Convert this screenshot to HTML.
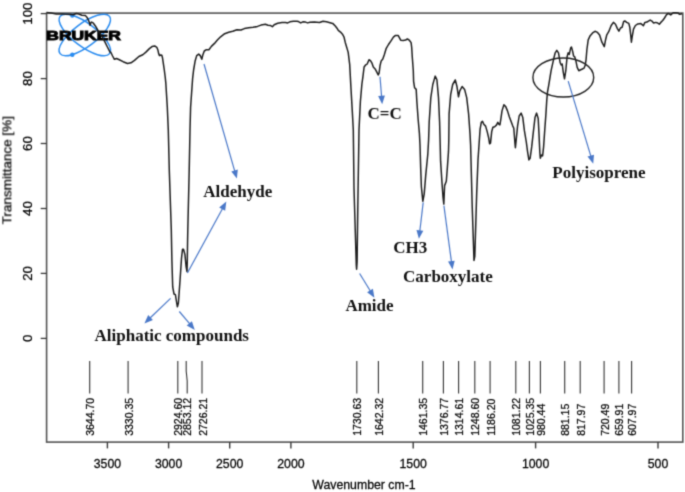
<!DOCTYPE html><html><head><meta charset="utf-8"><style>
html,body{margin:0;padding:0;background:#fff;}
svg{display:block;}
.ax{font-family:"Liberation Sans",sans-serif;fill:#000;stroke:#000;stroke-width:0.25px;}
.an{font-family:"Liberation Serif",serif;font-weight:bold;fill:#111;font-size:17px;}
</style></head><body>
<svg width="685" height="492" viewBox="0 0 685 492">
<defs><filter id="sf" x="0" y="0" width="685" height="492" filterUnits="userSpaceOnUse" color-interpolation-filters="sRGB"><feConvolveMatrix order="3" kernelMatrix="1 4 1 4 16 4 1 4 1" edgeMode="duplicate"/></filter></defs>
<g filter="url(#sf)">
<rect width="685" height="492" fill="#fff"/>
<rect x="46.6" y="13.1" width="636.2" height="429.0" fill="none" stroke="#555" stroke-width="1.6"/>
<line x1="40.7" y1="338.4" x2="46.6" y2="338.4" stroke="#3a3a3a" stroke-width="1.3"/>
<text class="ax" font-size="12.3" text-anchor="middle" transform="translate(31.6,338.4) scale(1,1.08) rotate(-90)">0</text>
<line x1="40.7" y1="273.4" x2="46.6" y2="273.4" stroke="#3a3a3a" stroke-width="1.3"/>
<text class="ax" font-size="12.3" text-anchor="middle" transform="translate(31.6,273.4) scale(1,1.08) rotate(-90)">20</text>
<line x1="40.7" y1="208.5" x2="46.6" y2="208.5" stroke="#3a3a3a" stroke-width="1.3"/>
<text class="ax" font-size="12.3" text-anchor="middle" transform="translate(31.6,208.5) scale(1,1.08) rotate(-90)">40</text>
<line x1="40.7" y1="143.5" x2="46.6" y2="143.5" stroke="#3a3a3a" stroke-width="1.3"/>
<text class="ax" font-size="12.3" text-anchor="middle" transform="translate(31.6,143.5) scale(1,1.08) rotate(-90)">60</text>
<line x1="40.7" y1="78.6" x2="46.6" y2="78.6" stroke="#3a3a3a" stroke-width="1.3"/>
<text class="ax" font-size="12.3" text-anchor="middle" transform="translate(31.6,78.6) scale(1,1.08) rotate(-90)">80</text>
<line x1="40.7" y1="13.6" x2="46.6" y2="13.6" stroke="#3a3a3a" stroke-width="1.3"/>
<text class="ax" font-size="12.3" text-anchor="middle" transform="translate(31.6,13.6) scale(1,1.08) rotate(-90)">100</text>
<text class="ax" font-size="12.3" text-anchor="middle" transform="translate(11.4,170.2) scale(1,1.10) rotate(-90)">Transmittance [%]</text>
<line x1="107.4" y1="442.1" x2="107.4" y2="448.4" stroke="#3a3a3a" stroke-width="1.4"/>
<text class="ax" font-size="12.3" text-anchor="middle" transform="translate(107.4,468.3) scale(1,1.08)">3500</text>
<line x1="168.6" y1="442.1" x2="168.6" y2="448.4" stroke="#3a3a3a" stroke-width="1.4"/>
<text class="ax" font-size="12.3" text-anchor="middle" transform="translate(168.6,468.3) scale(1,1.08)">3000</text>
<line x1="229.7" y1="442.1" x2="229.7" y2="448.4" stroke="#3a3a3a" stroke-width="1.4"/>
<text class="ax" font-size="12.3" text-anchor="middle" transform="translate(229.7,468.3) scale(1,1.08)">2500</text>
<line x1="290.9" y1="442.1" x2="290.9" y2="448.4" stroke="#3a3a3a" stroke-width="1.4"/>
<text class="ax" font-size="12.3" text-anchor="middle" transform="translate(290.9,468.3) scale(1,1.08)">2000</text>
<line x1="413.2" y1="442.1" x2="413.2" y2="448.4" stroke="#3a3a3a" stroke-width="1.4"/>
<text class="ax" font-size="12.3" text-anchor="middle" transform="translate(413.2,468.3) scale(1,1.08)">1500</text>
<line x1="535.6" y1="442.1" x2="535.6" y2="448.4" stroke="#3a3a3a" stroke-width="1.4"/>
<text class="ax" font-size="12.3" text-anchor="middle" transform="translate(535.6,468.3) scale(1,1.08)">1000</text>
<line x1="658.0" y1="442.1" x2="658.0" y2="448.4" stroke="#3a3a3a" stroke-width="1.4"/>
<text class="ax" font-size="12.3" text-anchor="middle" transform="translate(658.0,468.3) scale(1,1.08)">500</text>
<text class="ax" font-size="12.3" text-anchor="middle" transform="translate(364,488.7) scale(1,1.08)">Wavenumber cm-1</text>
<line x1="89.7" y1="361" x2="89.7" y2="393.4" stroke="#333" stroke-width="1.1"/>
<text class="ax" font-size="10.3" transform="translate(94.2,435.8) scale(1,1.02) rotate(-90)">3644.70</text>
<line x1="128.1" y1="361" x2="128.1" y2="393.4" stroke="#333" stroke-width="1.1"/>
<text class="ax" font-size="10.3" transform="translate(132.6,435.8) scale(1,1.02) rotate(-90)">3330.35</text>
<line x1="177.8" y1="361" x2="177.8" y2="393.4" stroke="#333" stroke-width="1.1"/>
<text class="ax" font-size="10.3" transform="translate(182.3,435.8) scale(1,1.02) rotate(-90)">2924.60</text>
<path d="M186.2 361L186.2 371L187.2 381L187.2 393.4" fill="none" stroke="#333" stroke-width="1.1"/>
<text class="ax" font-size="10.3" transform="translate(191.0,435.8) scale(1,1.02) rotate(-90)">2853.12</text>
<line x1="202.0" y1="361" x2="202.0" y2="393.4" stroke="#333" stroke-width="1.1"/>
<text class="ax" font-size="10.3" transform="translate(206.5,435.8) scale(1,1.02) rotate(-90)">2726.21</text>
<line x1="356.8" y1="361" x2="356.8" y2="393.4" stroke="#333" stroke-width="1.1"/>
<text class="ax" font-size="10.3" transform="translate(361.3,435.8) scale(1,1.02) rotate(-90)">1730.63</text>
<line x1="378.4" y1="361" x2="378.4" y2="393.4" stroke="#333" stroke-width="1.1"/>
<text class="ax" font-size="10.3" transform="translate(382.9,435.8) scale(1,1.02) rotate(-90)">1642.32</text>
<line x1="422.7" y1="361" x2="422.7" y2="393.4" stroke="#333" stroke-width="1.1"/>
<text class="ax" font-size="10.3" transform="translate(427.2,435.8) scale(1,1.02) rotate(-90)">1461.35</text>
<line x1="443.4" y1="361" x2="443.4" y2="393.4" stroke="#333" stroke-width="1.1"/>
<text class="ax" font-size="10.3" transform="translate(447.9,435.8) scale(1,1.02) rotate(-90)">1376.77</text>
<line x1="458.6" y1="361" x2="458.6" y2="393.4" stroke="#333" stroke-width="1.1"/>
<text class="ax" font-size="10.3" transform="translate(463.1,435.8) scale(1,1.02) rotate(-90)">1314.61</text>
<line x1="474.8" y1="361" x2="474.8" y2="393.4" stroke="#333" stroke-width="1.1"/>
<text class="ax" font-size="10.3" transform="translate(479.3,435.8) scale(1,1.02) rotate(-90)">1248.60</text>
<line x1="490.1" y1="361" x2="490.1" y2="393.4" stroke="#333" stroke-width="1.1"/>
<text class="ax" font-size="10.3" transform="translate(494.6,435.8) scale(1,1.02) rotate(-90)">1186.20</text>
<line x1="515.8" y1="361" x2="515.8" y2="393.4" stroke="#333" stroke-width="1.1"/>
<text class="ax" font-size="10.3" transform="translate(520.3,435.8) scale(1,1.02) rotate(-90)">1081.22</text>
<line x1="529.4" y1="361" x2="529.4" y2="393.4" stroke="#333" stroke-width="1.1"/>
<text class="ax" font-size="10.3" transform="translate(533.9,435.8) scale(1,1.02) rotate(-90)">1025.35</text>
<line x1="540.4" y1="361" x2="540.4" y2="393.4" stroke="#333" stroke-width="1.1"/>
<text class="ax" font-size="10.3" transform="translate(544.9,435.8) scale(1,1.02) rotate(-90)">980.44</text>
<line x1="564.7" y1="361" x2="564.7" y2="393.4" stroke="#333" stroke-width="1.1"/>
<text class="ax" font-size="10.3" transform="translate(569.2,435.8) scale(1,1.02) rotate(-90)">881.15</text>
<line x1="580.2" y1="361" x2="580.2" y2="393.4" stroke="#333" stroke-width="1.1"/>
<text class="ax" font-size="10.3" transform="translate(584.7,435.8) scale(1,1.02) rotate(-90)">817.97</text>
<line x1="604.1" y1="361" x2="604.1" y2="393.4" stroke="#333" stroke-width="1.1"/>
<text class="ax" font-size="10.3" transform="translate(608.6,435.8) scale(1,1.02) rotate(-90)">720.49</text>
<line x1="618.9" y1="361" x2="618.9" y2="393.4" stroke="#333" stroke-width="1.1"/>
<text class="ax" font-size="10.3" transform="translate(623.4,435.8) scale(1,1.02) rotate(-90)">659.91</text>
<line x1="631.6" y1="361" x2="631.6" y2="393.4" stroke="#333" stroke-width="1.1"/>
<text class="ax" font-size="10.3" transform="translate(636.1,435.8) scale(1,1.02) rotate(-90)">607.97</text>
<g fill="none" stroke="#2a8cf0" stroke-width="1.5">
<ellipse cx="84.8" cy="35.0" rx="31" ry="11.5" transform="rotate(37 84.8 35.0)"/>
<ellipse cx="84.8" cy="35.0" rx="31" ry="11.5" transform="rotate(-37 84.8 35.0)"/>
</g>
<circle cx="72.3" cy="15.6" r="2.2" fill="#2a8cf0"/><circle cx="72.3" cy="54.8" r="2.2" fill="#2a8cf0"/>
<text font-family="Liberation Sans,sans-serif" font-weight="bold" font-size="12.6" fill="#000" stroke="#000" stroke-width="0.9" transform="translate(46.3,40.0) scale(1.385,1)">BRUKER</text>
<path d="M46.5 12.6L51.3 13.1L56.2 13.9L62.3 14.1L68.4 14.3L73.3 14.7L76.3 13.5L78.8 14.1L81.8 15.3L85.5 15.6L87.3 17.8L88.5 20.2L89.4 22.6L90.1 25.3L90.8 23.0L91.6 22.0L93.4 23.2L95.2 25.7L97.7 30.0L100.1 33.6L102.5 37.3L105.0 42.1L107.4 47.0L109.9 51.9L110.9 52.5L112.6 56.0L114.4 59.3L116.6 58.5L118.8 59.5L123.1 61.7L127.5 63.5L131.0 62.8L134.5 60.4L138.9 56.5L142.8 54.7L145.9 52.1L149.4 48.6L152.0 46.6L154.7 45.9L156.8 47.3L158.0 50.3L158.6 53.4L159.5 55.6L160.8 55.0L161.8 55.3L162.5 57.8L163.4 63.9L164.3 70.0L165.2 77.0L165.8 82.8L167.3 107.2L168.3 130.0L169.3 170.6L171.3 230.0L171.9 260.5L172.7 286.9L174.0 294.0L175.4 294.6L176.4 301.0L177.4 306.8L178.4 303.0L180.0 280.8L181.5 258.4L182.5 249.3L183.5 249.3L184.9 254.4L186.1 266.5L187.0 271.6L187.3 260.0L187.6 240.0L187.8 230.0L189.2 170.6L190.0 130.0L190.6 107.0L192.6 78.7L193.6 70.0L195.2 60.7L196.7 55.6L198.7 54.1L200.3 55.6L201.8 59.2L202.8 55.1L204.3 51.0L206.4 49.7L208.9 49.7L211.4 46.4L214.5 43.4L217.6 39.8L220.6 36.8L224.7 33.7L228.7 32.2L232.8 31.2L236.9 29.7L241.0 30.0L244.4 28.6L248.8 27.8L253.1 27.3L257.5 26.4L261.0 25.1L265.4 24.3L268.0 25.3L270.6 25.6L272.4 26.7L274.2 24.7L277.7 23.2L282.0 22.5L285.5 22.5L287.7 22.9L289.9 21.8L293.4 21.2L296.9 21.2L298.5 21.6L300.7 22.9L302.9 21.8L305.5 22.1L307.7 22.9L309.9 22.3L314.3 22.1L319.5 22.5L323.0 21.2L326.5 21.8L330.0 22.7L332.7 23.4L335.3 26.0L337.0 28.2L338.3 30.4L340.5 32.1L342.7 34.6L344.0 37.0L345.2 42.2L348.2 52.4L349.7 64.6L350.9 87.0L352.3 111.4L353.3 130.0L354.0 188.0L356.3 265.3L356.6 269.2L357.1 261.5L357.8 207.0L359.0 130.0L360.4 101.2L361.9 84.0L362.9 76.8L364.1 67.0L365.4 65.2L367.2 64.0L369.0 59.7L370.6 60.9L372.1 63.4L373.3 67.0L375.1 68.9L376.7 71.9L378.2 75.0L379.1 73.1L380.0 65.8L381.2 60.9L382.8 59.1L384.3 54.8L386.1 48.7L388.5 44.5L391.0 40.8L393.4 37.1L395.2 35.6L398.3 35.6L399.5 37.8L400.7 40.2L403.2 40.4L405.6 40.0L407.4 39.0L409.3 40.2L411.1 42.6L411.7 47.5L412.3 57.3L413.3 70.7L413.6 81.3L414.6 87.8L416.2 89.4L416.8 100.8L418.1 118.7L419.4 133.4L420.0 145.0L420.7 168.5L421.4 187.0L422.8 201.3L424.2 194.1L425.7 175.6L427.8 154.2L428.6 140.0L429.2 122.0L430.8 97.6L432.8 84.5L435.2 76.1L436.9 79.7L438.5 97.6L439.6 122.0L440.2 145.0L440.6 161.4L442.0 182.7L443.0 197.0L443.8 204.1L444.6 185.6L446.3 181.3L447.3 168.5L448.5 151.4L448.8 140.0L449.1 113.9L450.7 94.3L452.7 84.5L455.3 80.0L456.9 86.2L458.5 96.8L459.7 91.1L462.1 86.5L464.6 89.4L466.7 97.6L468.6 113.9L470.0 133.4L470.6 145.0L472.2 206.0L474.0 260.4L474.8 256.4L476.7 192.9L478.0 160.0L479.1 143.8L480.1 129.1L481.3 122.4L482.5 121.2L483.8 124.3L485.6 126.1L487.2 131.6L488.6 137.7L489.6 143.8L490.5 143.2L491.7 131.6L492.9 127.3L494.7 126.7L496.6 124.9L497.8 122.4L499.0 124.3L499.9 124.9L500.8 119.4L502.0 110.9L503.9 104.8L505.7 106.6L507.5 110.9L509.4 117.0L511.2 121.8L512.8 126.1L513.8 128.2L515.0 143.7L515.4 147.7L516.3 138.8L517.6 125.8L519.2 116.0L521.1 113.1L522.8 117.6L524.4 130.7L526.3 142.0L527.6 151.8L528.9 159.9L530.1 158.3L531.7 146.9L533.3 132.3L535.0 117.6L536.6 113.1L538.2 118.5L539.0 133.9L539.8 151.8L540.3 158.3L541.5 155.0L542.6 155.9L543.6 146.9L544.7 130.7L545.9 114.4L546.8 99.8L547.5 92.0L548.7 85.3L551.1 70.7L553.6 59.3L555.2 52.8L556.8 50.3L558.5 52.8L560.1 62.5L561.2 65.0L562.2 64.1L563.3 72.3L564.5 78.8L565.8 70.7L567.1 56.8L568.2 52.8L569.3 54.4L570.7 47.9L571.5 47.1L572.6 51.1L573.6 56.0L574.7 56.8L575.9 60.9L577.2 67.4L578.8 70.7L580.7 69.8L582.4 69.0L584.0 68.2L585.3 65.0L586.1 59.3L586.9 49.5L588.2 39.8L590.2 35.7L592.6 32.9L595.0 31.3L597.5 32.4L599.6 34.9L601.9 42.2L604.3 46.6L605.6 39.7L606.8 34.8L608.7 31.7L611.2 25.5L613.4 22.4L615.5 24.2L617.4 28.6L618.9 31.1L620.5 28.0L622.1 27.3L623.6 21.7L624.8 20.9L626.7 22.4L628.8 23.4L629.8 27.3L630.8 36.0L631.4 42.2L632.3 36.0L633.5 29.2L635.4 25.5L637.8 23.9L640.9 23.6L643.4 25.8L644.9 22.4L646.9 22.1L648.4 21.1L650.2 20.1L651.9 21.1L653.6 23.0L655.8 22.4L657.7 23.0L659.3 24.2L660.8 22.4L662.7 20.5L664.5 18.0L666.4 14.9L668.2 13.4L670.7 14.9L673.2 12.7L675.7 12.7L678.2 13.1L679.4 14.3L681.3 13.9L682.0 13.5" fill="none" stroke="#1e1e1e" stroke-width="1.5" stroke-linejoin="round"/>
<ellipse cx="563.3" cy="77.5" rx="30.4" ry="19.5" fill="none" stroke="#222" stroke-width="1.4"/>
<line x1="204.0" y1="64.0" x2="234.8" y2="171.4" stroke="#4a78c8" stroke-width="1.2"/><path d="M236.9 178.6L231.3 171.4L237.8 169.5Z" fill="#4a78c8"/>
<line x1="187.4" y1="273.0" x2="222.7" y2="208.2" stroke="#4a78c8" stroke-width="1.2"/><path d="M226.3 201.6L225.2 210.7L219.2 207.4Z" fill="#4a78c8"/>
<line x1="170.6" y1="298.4" x2="149.8" y2="318.2" stroke="#4a78c8" stroke-width="1.2"/><path d="M144.4 323.4L148.2 315.1L152.9 320.0Z" fill="#4a78c8"/>
<line x1="179.3" y1="311.5" x2="190.0" y2="324.2" stroke="#4a78c8" stroke-width="1.2"/><path d="M194.8 329.9L186.7 325.6L191.9 321.2Z" fill="#4a78c8"/>
<line x1="380.0" y1="76.8" x2="381.6" y2="96.8" stroke="#4a78c8" stroke-width="1.2"/><path d="M382.2 104.3L378.1 96.1L384.9 95.6Z" fill="#4a78c8"/>
<line x1="359.6" y1="273.5" x2="370.5" y2="291.3" stroke="#4a78c8" stroke-width="1.2"/><path d="M374.4 297.7L367.1 292.2L372.9 288.7Z" fill="#4a78c8"/>
<line x1="423.2" y1="202.4" x2="419.8" y2="231.3" stroke="#4a78c8" stroke-width="1.2"/><path d="M418.9 238.7L416.5 229.9L423.3 230.7Z" fill="#4a78c8"/>
<line x1="443.9" y1="205.6" x2="451.5" y2="262.2" stroke="#4a78c8" stroke-width="1.2"/><path d="M452.5 269.6L448.0 261.6L454.7 260.7Z" fill="#4a78c8"/>
<line x1="568.2" y1="81.2" x2="591.0" y2="156.6" stroke="#4a78c8" stroke-width="1.2"/><path d="M593.2 163.8L587.5 156.6L594.0 154.7Z" fill="#4a78c8"/>
<text class="an" x="203.3" y="196.8">Aldehyde</text>
<text class="an" x="94.5" y="341.0">Aliphatic compounds</text>
<text class="an" x="367.6" y="118.5">C=C</text>
<text class="an" x="345.4" y="310.5">Amide</text>
<text class="an" x="393.2" y="252.6">CH3</text>
<text class="an" x="403.1" y="281.5">Carboxylate</text>
<text class="an" x="552.3" y="178.3">Polyisoprene</text>
</g></svg></body></html>
